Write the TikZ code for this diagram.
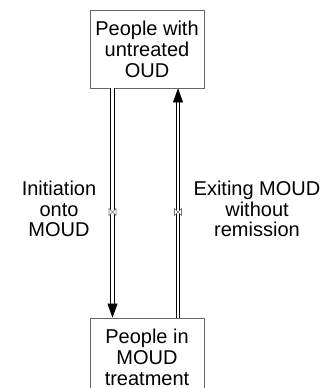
\documentclass[tikz,border=0pt]{standalone}
\usepackage{fontspec}
\setmainfont{Liberation Sans}
\usetikzlibrary{arrows.meta}
\begin{document}
\begin{tikzpicture}[x=0.75pt,y=-0.75pt,
  stock/.style={draw=black!60, line width=0.6pt, fill=white, minimum width=85.5pt,
    minimum height=58.5pt, inner sep=0pt, align=center,
    font=\fontsize{15}{15.8}\selectfont},
  flowlabel/.style={align=center, font=\fontsize{15}{15.5}\selectfont, inner sep=0pt},
  pipe/.style={draw=black, line width=0.55pt, double=white, double distance=2.2pt,
    -{Triangle[length=10.5pt,width=7.5pt]}},
  valve/.style={draw=black!55, fill=white, line width=0.45pt}
]
\useasboundingbox (0,0) rectangle (323,388);
% stocks
\node[stock] (untreated) at (147,49) {People with\\untreated\\OUD};
\node[stock] (treatment) at (147,357) {People in\\MOUD\\treatment};
% pipe end points
\coordinate (inTop) at (112.5,88);
\coordinate (inBot) at (112.5,318);
\coordinate (outTop) at (178,88);
\coordinate (outBot) at (178,318);
% flows
\draw[pipe] (untreated.south -| inTop) -- (treatment.north -| inBot);
\draw[pipe] (treatment.north -| outBot) -- (untreated.south -| outTop);
% valves
\foreach \vx/\nm in {112.5/vin, 178/vout}{
  \coordinate (\nm) at (\vx,212);
  \draw[valve] ([shift={(-3.5,-3.5)}]\nm) -- ([shift={(3.5,3.5)}]\nm) -- ([shift={(3.5,-3.5)}]\nm)
    -- ([shift={(-3.5,3.5)}]\nm) -- cycle;
}
% flow labels
\node[flowlabel] (lin) at (59,209) {Initiation\\onto\\MOUD};
\node[flowlabel] (lout) at (257,209) {Exiting MOUD\\without\\remission};
\end{tikzpicture}
\end{document}
